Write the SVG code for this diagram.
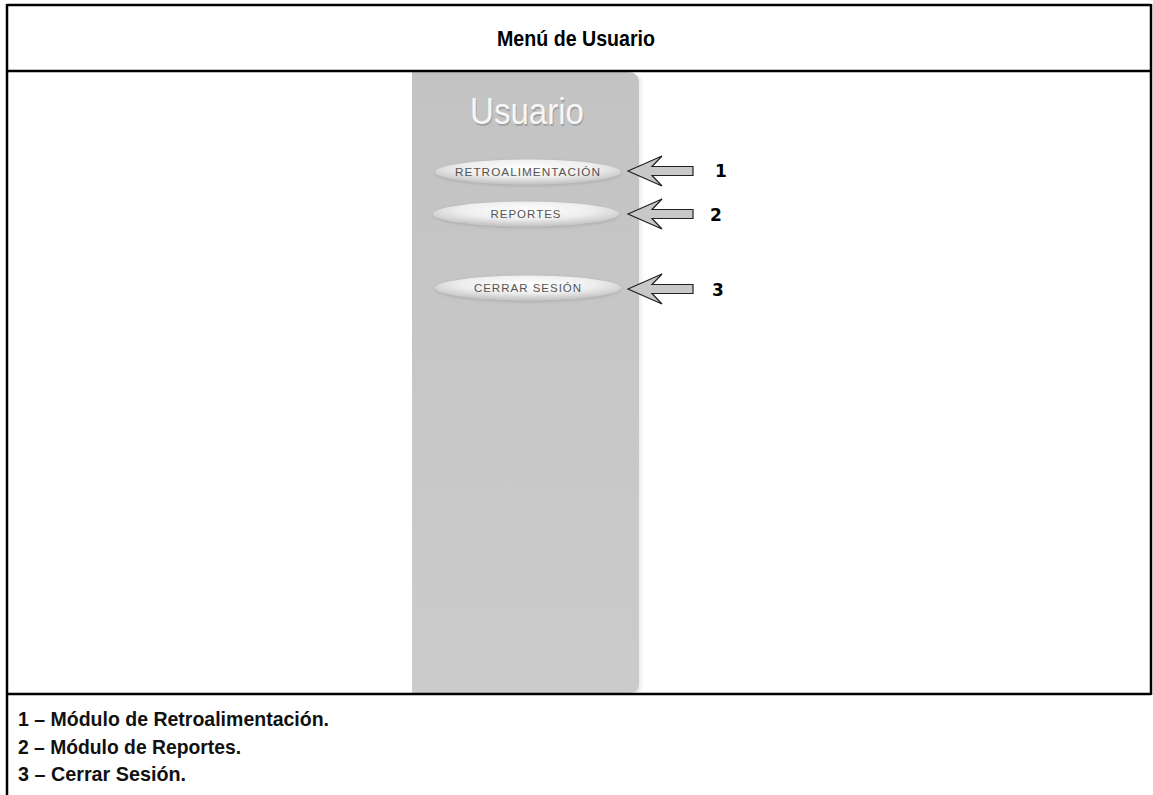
<svg xmlns="http://www.w3.org/2000/svg" width="1153" height="795" viewBox="0 0 1153 795">
<defs>
<style>
.border{stroke:#000;stroke-width:2.5;fill:none}
.title{font-family:"Liberation Sans",Arial,sans-serif;font-weight:bold;font-size:22px;fill:#000}
.legend{font-family:"Liberation Sans",Arial,sans-serif;font-weight:bold;font-size:20.5px;fill:#111}
.btn{font-family:"Liberation Sans",Arial,sans-serif;font-size:11.5px;letter-spacing:1px;fill:#555}
.num{font-family:"DejaVu Sans",sans-serif;font-weight:bold;font-size:17px;fill:#000}
.arrow{fill:#c8c8c8;stroke:#222;stroke-width:1.2;stroke-linejoin:miter}
</style>
<linearGradient id="panelG" x1="0" y1="0" x2="0" y2="1">
<stop offset="0" stop-color="#c3c3c3"/>
<stop offset="1" stop-color="#cbcbcb"/>
</linearGradient>
<linearGradient id="shadowG" x1="0" y1="0" x2="1" y2="0">
<stop offset="0" stop-color="#cacaca"/>
<stop offset="1" stop-color="#ffffff"/>
</linearGradient>
<radialGradient id="btnG" cx="0.5" cy="0.35" r="0.6">
<stop offset="0" stop-color="#ffffff"/>
<stop offset="0.6" stop-color="#eeeeee"/>
<stop offset="1" stop-color="#c8c8c8"/>
</radialGradient>
<filter id="soft" x="-10%" y="-10%" width="120%" height="120%"><feGaussianBlur stdDeviation="1.5"/></filter>
</defs>
<rect width="1153" height="795" fill="#fff"/>
<g id="panel">
<rect x="630" y="76" width="14" height="616" rx="8" fill="url(#shadowG)" filter="url(#soft)"/>
<path d="M412,72 H628 Q639,72 639,84 V684 Q639,693 630,693 H412 Z" fill="url(#panelG)"/>
<text x="470" y="124" textLength="114" lengthAdjust="spacingAndGlyphs" font-family="Liberation Sans,Arial,sans-serif" font-size="36" fill="#8a8a8a" opacity="0.6" transform="translate(1,1.5)">Usuario</text>
<text x="470" y="124" textLength="114" lengthAdjust="spacingAndGlyphs" font-family="Liberation Sans,Arial,sans-serif" font-size="36" fill="#f6f6f6">Usuario</text>
</g>
<g id="table">
<line class="border" x1="7" y1="5" x2="1151" y2="5"/>
<line class="border" x1="7" y1="71" x2="1151" y2="71"/>
<line class="border" x1="7" y1="694" x2="1151" y2="694"/>
<line class="border" x1="7" y1="4" x2="7" y2="795"/>
<line class="border" x1="1151" y1="4" x2="1151" y2="695"/>
<text class="title" x="497" y="46" textLength="158" lengthAdjust="spacingAndGlyphs">Menú de Usuario</text>
</g>
<g id="btn1">
<ellipse cx="528" cy="173" rx="93" ry="13" fill="#9a9a9a" opacity="0.5" filter="url(#soft)"/>
<ellipse cx="528" cy="172" rx="93" ry="12.5" fill="url(#btnG)"/>
<text class="btn" x="455" y="176" textLength="146" lengthAdjust="spacingAndGlyphs">RETROALIMENTACIÓN</text>
</g>
<g id="btn2">
<ellipse cx="526" cy="215" rx="93" ry="13" fill="#9a9a9a" opacity="0.5" filter="url(#soft)"/>
<ellipse cx="526" cy="214" rx="93" ry="12.5" fill="url(#btnG)"/>
<text class="btn" x="526" y="218" text-anchor="middle">REPORTES</text>
</g>
<g id="btn3">
<ellipse cx="528" cy="289" rx="93" ry="13" fill="#9a9a9a" opacity="0.5" filter="url(#soft)"/>
<ellipse cx="528" cy="288" rx="93" ry="12.5" fill="url(#btnG)"/>
<text class="btn" x="528" y="292" text-anchor="middle">CERRAR SESIÓN</text>
</g>
<g id="connectors">
<path class="arrow" d="M628,171 L662,156 L652,166.5 L693,166.5 L693,175.5 L652,175.5 L662,186 Z"/>
<path class="arrow" d="M628,214 L662,199 L652,209.5 L693,209.5 L693,218.5 L652,218.5 L662,229 Z"/>
<path class="arrow" d="M628,289 L662,274 L652,284.5 L693,284.5 L693,293.5 L652,293.5 L662,304 Z"/>
</g>
<g id="labels">
<text class="num" x="715" y="177">1</text>
<text class="num" x="710" y="221">2</text>
<text class="num" x="712" y="296">3</text>
</g>
<g id="legend">
<text class="legend" x="18" y="726" textLength="311" lengthAdjust="spacingAndGlyphs">1 – Módulo de Retroalimentación.</text>
<text class="legend" x="18" y="754" textLength="223" lengthAdjust="spacingAndGlyphs">2 – Módulo de Reportes.</text>
<text class="legend" x="18" y="781" textLength="168" lengthAdjust="spacingAndGlyphs">3 – Cerrar Sesión.</text>
</g>
</svg>
